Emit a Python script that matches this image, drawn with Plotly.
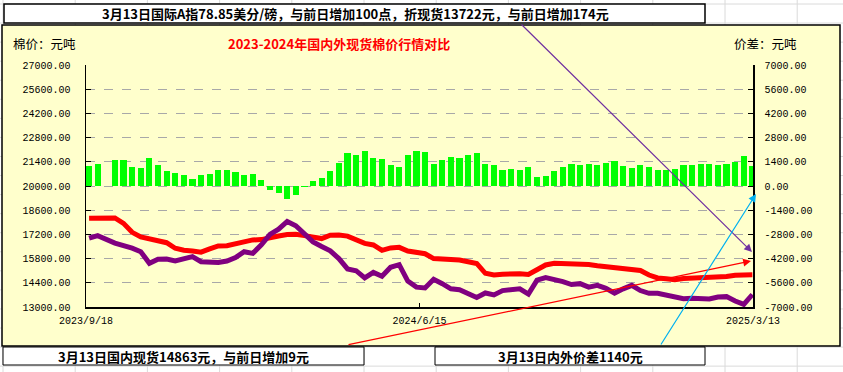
import pandas as pd
import plotly.graph_objects as go

# ---------------- data (weekly readings) ----------------
week_start = pd.date_range("2023-09-18", periods=78, freq="7D")

domestic = [18130, 18160, None, 18150, 17840, 17320, 17050, 16940, 16860, 16720,
            16400, 16280, 16240, 16170, 16360, 16530, 16550, 16650, 16820, 16880,
            16900, 16970, 17110, 17190, 17205, 17130, 17070, 16960, 17150, 17170,
            17100, 16900, 16680, 16590, 16280, 16420, 16450, 16240, 16150, 16080,
            15800, 15780, 15740, 15720, 15620, 15520, 14950, 14850, 14900, 14930,
            14920, 14880, 15140, 15430, 15530, 15530, 15530, 15480, 15460, 15390,
            15330, 15280, 15250, 15200, 15110, 14850, 14680, 14640, 14580, 14650,
            14660, 14680, 14700, 14750, 14760, 14840, 14860, 14863]

international = [16980, 17130, None, 16700, 16580, 16400, 16200, 15530, 15760, 15780,
                 15660, 15800, 15910, 15620, 15620, 15580, 15660, 15860, 16200, 16100,
                 16600, 17200, 17500, 17950, 17700, 17200, 16770, 16500, 16250, 15800,
                 15200, 15100, 14680, 15000, 14780, 15300, 15450, 14500, 14150, 14100,
                 14600, 14350, 14050, 14000, 13800, 13550, 13810, 13700, 13950, 13980,
                 14050, 13750, 14550, 14700, 14620, 14470, 14300, 14350, 14150, 14250,
                 14080, 13800, 14050, 14250, 13950, 13790, 13790, 13700, 13600, 13480,
                 13500, 13450, 13460, 13580, 13600, 13350, 13150, 13722]

spread = [1170, 1250, None, 1500, 1500, 1100, 1050, 1600, 1200, 890,
          730, 660, 430, 620, 690, 950, 920, 810, 620, 700,
          370, -210, -400, -760, -500, -80, 310, 460, 850, 1330,
          1900, 1800, 2000, 1620, 1550, 1200, 1100, 1800, 2050, 1950,
          1300, 1500, 1700, 1600, 1800, 1900, 1300, 1200, 900, 1000,
          900, 1100, 500, 600, 850, 1100, 1300, 1230, 1300, 1200,
          1350, 1450, 1150, 1050, 1200, 1100, 900, 950, 1000, 1200,
          1200, 1250, 1280, 1200, 1250, 1400, 1750, 1140]

left_ticks = [13000, 14400, 15800, 17200, 18600, 20000, 21400, 22800, 24200, 25600, 27000]
right_ticks = [-7000, -5600, -4200, -2800, -1400, 0, 1400, 2800, 4200, 5600, 7000]
x_tick_dates = ["2023-09-18", "2024-06-15", "2025-03-13"]
x_tick_text = ["2023/9/18", "2024/6/15", "2025/3/13"]

top_text = "3月13日国际A指78.85美分/磅，与前日增加100点，折现货13722元，与前日增加174元"
title_text = "2023-2024年国内外现货棉价行情对比"
left_unit = "棉价：元吨"
right_unit = "价差：元吨"
bottom_left_text = "3月13日国内现货14863元，与前日增加9元"
bottom_right_text = "3月13日内外价差1140元"

# ---------------- layout geometry ----------------
W, H = 843, 372
L, R, T, B = 86, 90, 65, 65
PW, PH = W - L - R, H - T - B


def px(x):
    return (x - L) / PW


def py(y):
    return (H - B - y) / PH


centers = week_start + pd.Timedelta(hours=60)
DAY_MS = 86400000

fig = go.Figure()
fig.add_trace(go.Bar(x=centers, y=spread, width=5 * DAY_MS, marker=dict(color="#00FF00", line=dict(width=0)),
                     yaxis="y", name="价差"))
fig.add_trace(go.Scatter(x=centers, y=domestic, mode="lines", connectgaps=True,
                         line=dict(color="#FF0000", width=5), yaxis="y2", name="国内"))
fig.add_trace(go.Scatter(x=centers, y=international, mode="lines", connectgaps=True,
                         line=dict(color="#800080", width=5), yaxis="y2", name="国际"))

tick_font = dict(family="Liberation Mono", size=10, color="#000000")

shapes = []
# spreadsheet cell grid
for k in range(13):
    xx = 3 + 72.2 * k
    shapes.append(dict(type="line", xref="paper", yref="paper", x0=px(xx), x1=px(xx), y0=py(0), y1=py(H),
                       line=dict(color="#DADADA", width=1), layer="below"))
for k in range(21):
    yy = 4 + 19.06 * k
    shapes.append(dict(type="line", xref="paper", yref="paper", x0=px(0), x1=px(W), y0=py(yy), y1=py(yy),
                       line=dict(color="#DADADA", width=1), layer="below"))
# chart box
shapes.append(dict(type="rect", xref="paper", yref="paper", x0=px(2), x1=px(840), y0=py(25), y1=py(346),
                   fillcolor="#FFFFCC", line=dict(color="#000000", width=1.5), layer="below"))
# top text box
shapes.append(dict(type="rect", xref="paper", yref="paper", x0=px(4), x1=px(705), y0=py(4), y1=py(23),
                   fillcolor="#FFFFFF", line=dict(color="#000000", width=1.5), layer="below"))
# bottom boxes
shapes.append(dict(type="rect", xref="paper", yref="paper", x0=px(3), x1=px(364), y0=py(347), y1=py(365),
                   fillcolor="#FFFFFF", line=dict(color="#000000", width=1), layer="below"))
shapes.append(dict(type="rect", xref="paper", yref="paper", x0=px(435), x1=px(705), y0=py(347), y1=py(365),
                   fillcolor="#FFFFFF", line=dict(color="#000000", width=1), layer="below"))

cjk = "Noto Sans CJK SC"
annotations = [
    dict(x=px(355), y=py(14), text=top_text, font=dict(family=cjk, size=13, color="#000000", weight="bold")),
    dict(x=px(339), y=py(43), text=title_text, font=dict(family=cjk, size=13, color="#FF0000", weight="bold")),
    dict(x=px(11), y=py(43), text=left_unit, xanchor="left", font=dict(family=cjk, size=12.5, color="#000000")),
    dict(x=px(732), y=py(43), text=right_unit, xanchor="left", font=dict(family=cjk, size=12.5, color="#000000")),
    dict(x=px(183), y=py(356), text=bottom_left_text, font=dict(family=cjk, size=13, color="#000000", weight="bold")),
    dict(x=px(570), y=py(356), text=bottom_right_text, font=dict(family=cjk, size=13, color="#000000", weight="bold")),
]
for a in annotations:
    a.setdefault("xanchor", "center")
    a.update(xref="paper", yref="paper", yanchor="middle", showarrow=False)

arrows = [
    ((752, 252), (520, 23), "#7030A0"),
    ((751, 261), (347, 345), "#FF0000"),
    ((756, 194), (660, 346), "#00B0F0"),
]
for (hx, hy), (tx, ty), col in arrows:
    annotations.append(dict(xref="paper", yref="paper", x=px(hx), y=py(hy), ax=tx - hx, ay=ty - hy,
                            axref="pixel", ayref="pixel", text="", showarrow=True, arrowhead=2,
                            arrowsize=1.3, arrowwidth=1.2, arrowcolor=col, standoff=0, startstandoff=0))

fig.update_layout(
    width=W, height=H,
    margin=dict(l=L, r=R, t=T, b=B, pad=0),
    paper_bgcolor="#FFFFFF",
    plot_bgcolor="rgba(0,0,0,0)",
    showlegend=False,
    bargap=0,
    hovermode=False,
    shapes=shapes,
    annotations=annotations,
    xaxis=dict(type="date", range=["2023-09-18", "2025-03-13"], tickvals=x_tick_dates, ticktext=x_tick_text,
               showgrid=False, showline=True, linecolor="#000000", linewidth=1.5,
               ticks="inside", ticklen=4, tickcolor="#000000", tickfont=tick_font, zeroline=False,
               ticklabelstandoff=3),
    yaxis=dict(side="right", range=[-7000, 7000], tickvals=right_ticks,
               ticktext=[f"{v:.2f}" for v in right_ticks],
               showgrid=True, gridcolor="#A8A8A8", griddash="dash", gridwidth=1, zeroline=False,
               showline=True, linecolor="#000000", linewidth=1.5,
               ticks="inside", ticklen=5, tickcolor="#000000", tickfont=tick_font, ticklabelstandoff=8),
    yaxis2=dict(side="left", overlaying="y", range=[13000, 27000], tickvals=left_ticks,
                ticktext=[f"{v:.2f}" for v in left_ticks],
                showgrid=False, zeroline=False, showline=True, linecolor="#000000", linewidth=1.5,
                ticks="inside", ticklen=5, tickcolor="#000000", tickfont=tick_font, ticklabelstandoff=12),
)

fig.write_html("out.html", config={"displayModeBar": False, "staticPlot": True},
               post_script="document.body.style.margin='0';document.body.style.overflow='hidden';")
